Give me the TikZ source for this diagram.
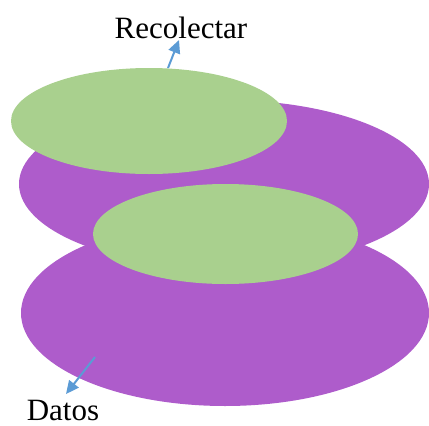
\documentclass[tikz,border=0pt]{standalone}
\usepackage{fontspec}
\setmainfont{Liberation Serif}
\usetikzlibrary{shapes.geometric,arrows.meta}
\definecolor{purp}{HTML}{AE5CCB}
\definecolor{grn}{HTML}{A9D08E}
\definecolor{blu}{HTML}{5B9BD5}
\begin{document}
\begin{tikzpicture}[x=1pt,y=-1pt,
  disk/.style={ellipse,draw=none,inner sep=0pt},
  lbl/.style={font=\fontsize{31}{36}\selectfont,inner sep=0pt},
  pointer/.style={draw=blu,line width=2pt,-{Triangle[length=13pt,width=12pt]}}]
\useasboundingbox (0,0) rectangle (429,426);
\node[disk,fill=purp,minimum width=408,minimum height=186] (bot) at (225,313) {};
\node[disk,fill=purp,minimum width=410,minimum height=168] (top) at (224,184) {};
\node[disk,fill=grn,minimum width=276,minimum height=106] (gtop) at (149,121) {};
\node[disk,fill=grn,minimum width=265,minimum height=100] (gmid) at (225.5,234) {};
\node[lbl] (rec) at (181,28) {Recolectar};
\node[lbl] (dat) at (63,410) {Datos};
\coordinate (a1) at (168,68);
\coordinate (a1t) at (179,40);
\coordinate (a2) at (95,357);
\coordinate (a2t) at (66,394);
\draw[pointer] (a1) -- (a1t);
\draw[pointer] (a2) -- (a2t);
\end{tikzpicture}
\end{document}
